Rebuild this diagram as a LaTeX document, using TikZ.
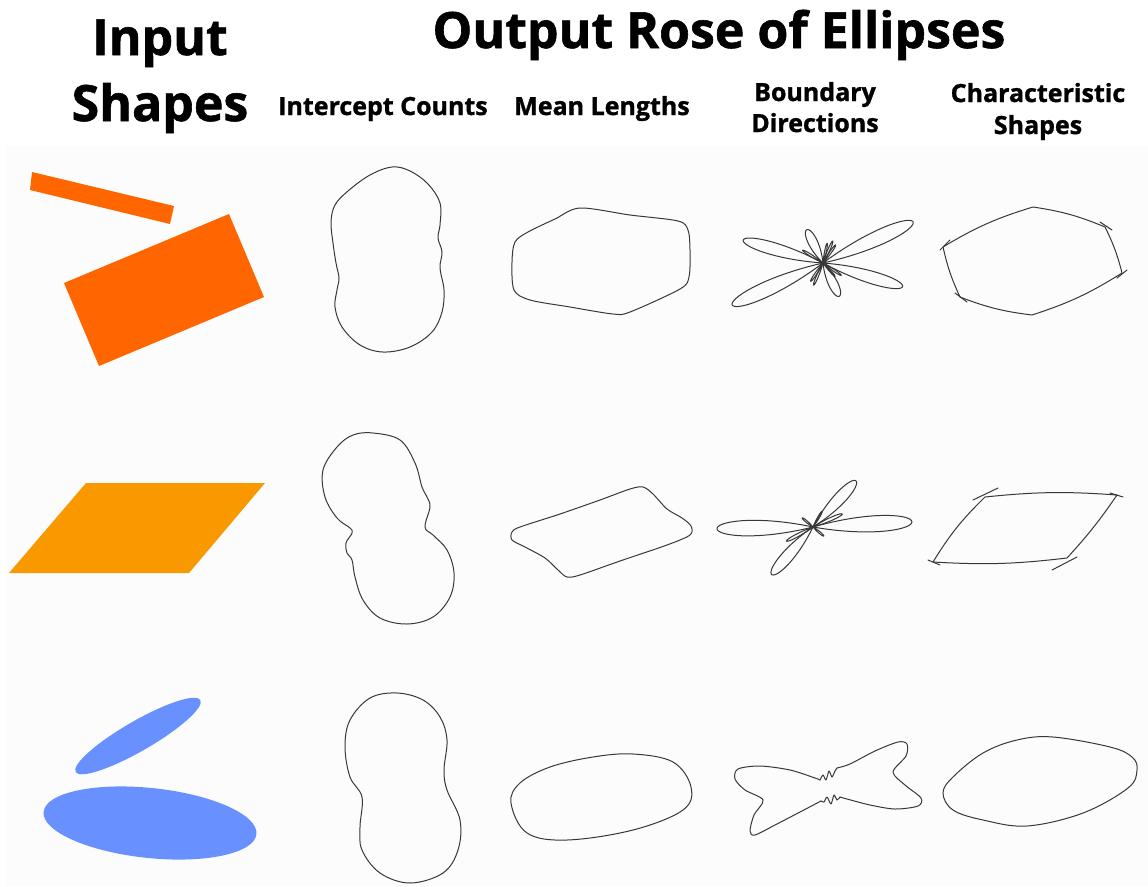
\documentclass[tikz,border=0pt]{standalone}
\usepackage{fontspec}
\setmainfont{Open Sans}[BoldFeatures={FakeBold=1.2}]
\definecolor{barorange}{RGB}{255,102,0}
\definecolor{parorange}{RGB}{250,152,0}
\definecolor{ellblue}{RGB}{104,145,255}
\definecolor{bgpale}{RGB}{252,252,253}
\newcommand\rosepetal[4]{%
  \draw[curve, shift={#1}, rotate=#2] plot[domain=-#4:#4, samples=60, smooth]
    ({#3*cos(90*\x/#4)*cos(\x)}, {#3*cos(90*\x/#4)*sin(\x)});}
\begin{document}
\begin{tikzpicture}[x=1pt,y=-1pt,
  curve/.style={draw=black!78, line width=1pt, line join=round, line cap=round},
  bigtitle/.style={font=\bfseries\fontsize{50}{60}\selectfont, inner sep=0pt, anchor=base},
  subtitle/.style={font=\bfseries\fontsize{25}{31}\selectfont, inner sep=0pt, anchor=base}]
\useasboundingbox (0,0) rectangle (1148,886);
\fill[white] (0,0) rectangle (1148,886);
\fill[bgpale] (6,146) rectangle (1148,886);

% headings
\node[bigtitle] (hInput) at (160,55) {Input};
\node[bigtitle] (hShapes) at (160,121) {Shapes};
\node[bigtitle] (hOutput) at (719,48) {Output Rose of Ellipses};
\node[subtitle] (hCounts) at (383,115) {Intercept Counts};
\node[subtitle] (hMean) at (602,115) {Mean Lengths};
\node[subtitle] (hBound1) at (815,101) {Boundary};
\node[subtitle] (hBound2) at (815,132) {Directions};
\node[subtitle] (hChar1) at (1038,102) {Characteristic};
\node[subtitle] (hChar2) at (1038,134) {Shapes};

% ---------- input shapes ----------
\fill[barorange] (32,172) -- (174,206) -- (170,224) -- (30,190) -- cycle;
\fill[barorange] (64,283) -- (229,214) -- (264,297) -- (99,366) -- cycle;
\fill[parorange] (86,483) -- (265,483) -- (189,573) -- (9,573) -- cycle;
\fill[ellblue, shift={(138,736)}, rotate=30] (0,0) ellipse[x radius=72, y radius=15];
\fill[ellblue, shift={(150,823)}, rotate=-6] (0,0) ellipse[x radius=107, y radius=35];

% ---------- row 1 ----------
\draw[curve] plot[smooth cycle, tension=0.6] coordinates {
 (392,167) (410,171) (428,184) (440,203) (440,225) (438,238) (442,252) (440,268)
 (444,290) (442,312) (432,332) (410,347) (383,352) (360,345) (342,327) (335,307)
 (337,290) (339,278) (336,263) (333,243) (331,222) (335,205) (348,191) (370,175)};
\draw[curve] plot[smooth cycle, tension=0.5] coordinates {
 (580,208) (630,215) (678,221) (688,230) (690,250) (689,277) (680,289) (630,312)
 (613,314) (570,307) (530,300) (514,290) (512,262) (515,242) (528,232) (555,219)};
% rose of directions row 1
\rosepetal{(823,263)}{24.5}{99}{12}
\rosepetal{(823,263)}{204.8}{100}{12}
\rosepetal{(823,263)}{164}{83}{12}
\rosepetal{(823,263)}{-16.5}{83}{12}
\rosepetal{(823,263)}{116}{37}{20}
\rosepetal{(823,263)}{296}{37}{20}
\rosepetal{(823,263)}{55}{22}{7}
\rosepetal{(823,263)}{66}{24}{7}
\rosepetal{(823,263)}{78}{20}{7}
\rosepetal{(823,263)}{148}{24}{7}
\rosepetal{(823,263)}{236}{22}{7}
\rosepetal{(823,263)}{247}{24}{7}
\rosepetal{(823,263)}{326}{22}{7}
\rosepetal{(823,263)}{312}{18}{7}
% characteristic shape row 1
\draw[curve] (1033,207) to[bend left=7] (1105,227) to[bend left=6] (1122,273)
  to[bend left=7] (1032,315) to[bend left=7] (960,297) to[bend left=6] (943,247)
  to[bend left=7] cycle;
\draw[curve] (1100,222) -- (1112,230);
\draw[curve] (1117,278) -- (1127,270);
\draw[curve] (955,293) -- (967,302);
\draw[curve] (940,250) -- (950,240);

% ---------- row 2 ----------
\draw[curve] plot[smooth cycle, tension=0.6] coordinates {
 (373,433) (400,440) (415,463) (422,487) (427,497) (430,507) (425,527) (433,535)
 (447,550) (454,573) (450,597) (433,617) (407,624) (380,618) (363,600) (355,577)
 (352,560) (347,553) (346,543) (352,533) (350,528) (337,518) (325,497) (323,470)
 (337,447) (353,435)};
\draw[curve] plot[smooth cycle, tension=0.5] coordinates {
 (520,527) (560,514) (600,500) (630,489) (643,487) (653,494) (667,509) (682,518)
 (691,526) (690,535) (667,545) (620,561) (580,575) (567,577) (558,570) (545,558)
 (525,547) (512,540) (512,532)};
% rose of directions row 2
\rosepetal{(813,527)}{3}{99}{13}
\rosepetal{(813,527)}{181}{96}{13}
\rosepetal{(813,527)}{47}{63}{15}
\rosepetal{(813,527)}{229}{63}{15}
\rosepetal{(813,527)}{24}{32}{8}
\rosepetal{(813,527)}{208}{30}{8}
\rosepetal{(813,527)}{60}{18}{8}
\rosepetal{(813,527)}{140}{14}{10}
\rosepetal{(813,527)}{320}{14}{10}
% characteristic shape row 2
\draw[curve] (985,497) to[bend left=5] (1117,495) to[bend left=4] (1067,558)
  to[bend left=5] (933,562) to[bend left=7] cycle;
\draw[curve] (973,500) -- (998,488);
\draw[curve] (1110,493) -- (1123,497);
\draw[curve] (1052,570) -- (1077,557);
\draw[curve] (928,560) -- (940,565);

% ---------- row 3 ----------
\draw[curve] plot[smooth cycle, tension=0.6] coordinates {
 (397,693) (423,700) (440,717) (447,740) (444,770) (447,790) (460,820) (458,850)
 (443,873) (410,883) (380,873) (362,850) (360,827) (362,797) (350,777) (345,747)
 (350,720) (370,698)};
\draw[curve] plot[smooth cycle, tension=0.6] coordinates {
 (633,754) (673,762) (691,787) (683,810) (633,830) (567,840) (527,833) (511,803)
 (520,783) (550,767) (593,757)};
% rose of directions row 3 (butterfly)
\draw[curve] plot[smooth, tension=0.5] coordinates {
 (837,768) (850,764) (875,751) (898,742) (907,744) (906,756) (893,772) (905,785)
 (921,798) (918,806) (895,809) (870,805) (847,799) (840,797)};
\draw[curve] plot[smooth, tension=0.4] coordinates {
 (840,797) (837,800) (834,795) (831,804) (827,797) (824,802) (821,801)};
\draw[curve] plot[smooth, tension=0.5] coordinates {
 (821,801) (800,812) (775,825) (755,835) (750,831) (754,815) (763,800) (745,790)
 (735,779) (738,769) (760,766) (790,770) (815,778) (820,780)};
\draw[curve] plot[smooth, tension=0.4] coordinates {
 (820,780) (823,775) (826,780) (829,771) (832,777) (835,771) (837,768)};
% characteristic shape row 3
\draw[curve] plot[smooth cycle, tension=0.6] coordinates {
 (1053,737) (1110,747) (1132,757) (1137,770) (1128,788) (1083,813) (1027,826) (983,820)
 (953,810) (943,793) (953,777) (983,753) (1017,740)};
\end{tikzpicture}
\end{document}
